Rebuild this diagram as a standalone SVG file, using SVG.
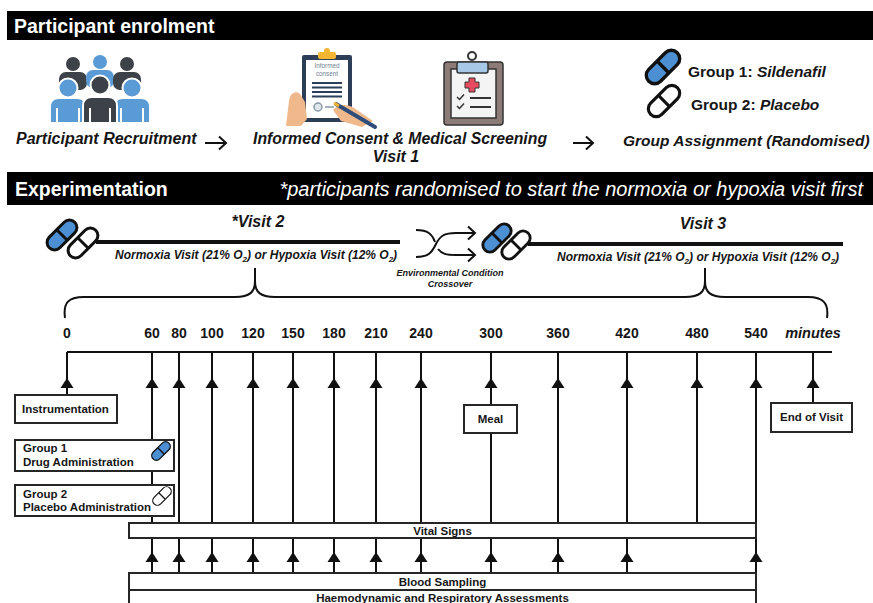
<svg xmlns="http://www.w3.org/2000/svg" xmlns:xlink="http://www.w3.org/1999/xlink" width="873" height="603" viewBox="0 0 873 603">
  <style>
    text { font-family: "Liberation Sans", Arial, sans-serif; fill: #161616; }
    .hdr { font-size: 19.5px; font-weight: bold; fill: #fff; }
    .hdr-note { font-size: 20px; font-style: italic; fill: #fff; }
    .step { font-size: 16px; font-weight: bold; font-style: italic; }
    .grp { font-size: 15.5px; font-weight: bold; }
    .visit { font-size: 16px; font-weight: bold; font-style: italic; }
    .cond { font-size: 12px; font-weight: bold; font-style: italic; }
    .sub { font-size: 8px; }
    .xover { font-size: 9px; font-weight: bold; font-style: italic; text-anchor: middle; }
    .num { font-size: 14px; font-weight: bold; text-anchor: middle; }
    .unit { font-size: 14.5px; font-weight: bold; font-style: italic; text-anchor: middle; }
    .bt { font-size: 11.5px; font-weight: bold; }
    .btc { font-size: 11.5px; font-weight: bold; text-anchor: middle; }
    .form { font-size: 6.3px; text-anchor: middle; fill: #6f7f90; }
    .box { fill: #fff; stroke: #262626; stroke-width: 2; }
    .ln { stroke: #111; stroke-width: 2; fill: none; }
    .thick { stroke: #111; stroke-width: 4; fill: none; }
    .tri { fill: #111; }
    .pill-blue { fill: #4d8fd3; stroke: #111; }
    .pill-white { fill: #fff; stroke: #111; }
    .blue { fill: #5b9bd5; }
    .dark { fill: #3d4248; }
  </style>
  <defs>
    <!-- capsule centred on the origin; fill and stroke come from the <use> -->
    <g id="pill">
      <rect x="-18" y="-7.5" width="36" height="15" rx="7.5"/>
      <line x1="0" y1="-7.5" x2="0" y2="7.5"/>
    </g>
    <!-- upward arrowhead, apex at the origin -->
    <path id="up" d="M0 0 L-6.5 10 L6.5 10 Z"/>
  </defs>

  <rect width="873" height="603" fill="#fff"/>

  <!-- ===== Participant enrolment ===== -->
  <g id="hdr-enrolment">
    <rect x="7" y="11" width="866" height="29" fill="#000"/>
    <text class="hdr" x="14" y="33">Participant enrolment</text>
  </g>

  <g id="recruitment">
    <!-- back row -->
    <circle class="dark" cx="73" cy="64" r="7"/>
    <rect class="dark" x="59" y="72" width="28" height="18" rx="7"/>
    <circle class="blue" cx="100" cy="62" r="7"/>
    <rect class="blue" x="86" y="70" width="28" height="18" rx="7"/>
    <circle class="dark" cx="127" cy="64" r="7"/>
    <rect class="dark" x="113" y="72" width="28" height="18" rx="7"/>
    <!-- front row -->
    <path class="blue" d="M50 123 V107 Q50 98 59 98 H77 Q86 98 86 107 V123 Z" stroke="#fff" stroke-width="2"/>
    <circle class="blue" cx="68" cy="88" r="9.5" stroke="#fff" stroke-width="2"/>
    <path class="blue" d="M114 123 V107 Q114 98 123 98 H141 Q150 98 150 107 V123 Z" stroke="#fff" stroke-width="2"/>
    <circle class="blue" cx="132" cy="88" r="9.5" stroke="#fff" stroke-width="2"/>
    <path class="dark" d="M83 123 V106 Q83 97 92 97 H108 Q117 97 117 106 V123 Z" stroke="#fff" stroke-width="2"/>
    <circle class="dark" cx="100" cy="85" r="9.5" stroke="#fff" stroke-width="2"/>
    <path d="M57 108 V123 M79 108 V123 M90 108 V123 M110 108 V123 M121 108 V123 M143 108 V123" stroke="#fff" stroke-width="2"/>
    <text class="step" x="16" y="144">Participant Recruitment</text>
  </g>

  <g id="consent">
    <!-- consent form on a clipboard, signed by hand -->
    <rect x="302" y="55" width="50" height="67" rx="2" fill="#2c3e58"/>
    <rect x="306" y="60" width="42" height="58" fill="#fff"/>
    <rect x="318" y="52" width="18" height="7" rx="2" fill="#f2b632"/>
    <circle cx="327" cy="51" r="3" fill="#f2b632"/>
    <text class="form" x="327" y="68">Informed</text>
    <text class="form" x="327" y="76">consent</text>
    <path d="M312 83 H342 M312 87.5 H342 M312 92 H342 M312 96.5 H342" stroke="#2c3e58" stroke-width="2"/>
    <circle cx="318" cy="107" r="4" fill="#dfe5ec" stroke="#8797a8" stroke-width="1.5"/>
    <path d="M325 107 H334" stroke="#8797a8" stroke-width="1.5"/>
    <path d="M286 126 L289 101 C290 93 296 90 300 94 L305 102 L307 119 L301 126 Z" fill="#f0b98b"/>
    <path d="M333 110 C339 103 349 104 357 110 L373 121 L362 127 L341 121 Z" fill="#f0b98b"/>
    <path d="M336 104 L375 127" stroke="#2f4d7a" stroke-width="4" stroke-linecap="round"/>
    <path d="M334 103 L339 106" stroke="#f2b632" stroke-width="3"/>
  </g>

  <g id="screening">
    <!-- medical clipboard -->
    <rect x="444" y="62" width="59" height="63" rx="3" fill="#8c7b76" stroke="#333" stroke-width="1.5"/>
    <rect x="451" y="69" width="45" height="49" fill="#f4f4f4" stroke="#333" stroke-width="1.5"/>
    <circle cx="472" cy="56" r="4" fill="none" stroke="#333" stroke-width="2"/>
    <rect x="457" y="62" width="31" height="11" rx="2" fill="#a8c8e8" stroke="#333" stroke-width="1.5"/>
    <path d="M469 78 h6 v4 h4 v6 h-4 v4 h-6 v-4 h-4 v-6 h4 Z" fill="#e84a5f" stroke="#333" stroke-width="1"/>
    <path d="M457 97 l2.5 2.5 l4.5 -5 M457 106 l2.5 2.5 l4.5 -5" fill="none" stroke="#333" stroke-width="1.5"/>
    <path d="M470 98 H491 M470 107 H491" stroke="#333" stroke-width="2"/>
    <text class="step" x="253" y="144" style="font-size:15.8px">Informed Consent &amp; Medical Screening</text>
    <text class="step" x="396" y="162" text-anchor="middle">Visit 1</text>
  </g>

  <g id="assignment">
    <use xlink:href="#pill" class="pill-blue" stroke-width="3" transform="translate(663 67) rotate(-45) scale(1.12)"/>
    <text class="grp" x="688" y="77">Group 1: <tspan font-style="italic">Sildenafil</tspan></text>
    <use xlink:href="#pill" class="pill-white" stroke-width="3" transform="translate(664 101) rotate(-45) scale(1.05)"/>
    <text class="grp" x="691" y="110">Group 2: <tspan font-style="italic">Placebo</tspan></text>
    <text class="step" x="623" y="146" style="font-size:15.5px">Group Assignment (Randomised)</text>
  </g>

  <!-- ===== Experimentation ===== -->
  <g id="hdr-experimentation">
    <rect x="7" y="172" width="866" height="33" fill="#000"/>
    <text class="hdr" x="15" y="196">Experimentation</text>
    <text class="hdr-note" x="863" y="196" text-anchor="end">*participants randomised to start the normoxia or hypoxia visit first</text>
  </g>

  <g id="visit2">
    <text class="visit" x="258" y="227" text-anchor="middle">*Visit 2</text>
    <path class="thick" d="M96 242 H400"/>
    <use xlink:href="#pill" class="pill-blue" stroke-width="3" transform="translate(62 235) rotate(-45)"/>
    <use xlink:href="#pill" class="pill-white" stroke-width="3" transform="translate(83 243) rotate(-45)"/>
    <text class="cond" x="115" y="259">Normoxia Visit (21% O<tspan class="sub" dy="2.5">2</tspan><tspan dy="-2.5">) or Hypoxia Visit (12% O</tspan><tspan class="sub" dy="2.5">2</tspan><tspan dy="-2.5">)</tspan></text>
  </g>

  <g id="crossover">
    <text class="xover" x="450" y="276">Environmental Condition</text>
    <text class="xover" x="450" y="287">Crossover</text>
  </g>

  <g id="visit3">
    <text class="visit" x="703" y="229" text-anchor="middle">Visit 3</text>
    <path class="thick" d="M528 244 H843"/>
    <use xlink:href="#pill" class="pill-blue" stroke-width="3" transform="translate(497 238) rotate(-45) scale(0.95)"/>
    <use xlink:href="#pill" class="pill-white" stroke-width="3" transform="translate(516 245) rotate(-45) scale(0.95)"/>
    <text class="cond" x="557" y="261">Normoxia Visit (21% O<tspan class="sub" dy="2.5">2</tspan><tspan dy="-2.5">) or Hypoxia Visit (12% O</tspan><tspan class="sub" dy="2.5">2</tspan><tspan dy="-2.5">)</tspan></text>
  </g>

  <!-- timeline scale -->
  <g id="scale">
    <text class="num" x="67" y="338">0</text>
    <text class="num" x="152" y="338">60</text>
    <text class="num" x="179" y="338">80</text>
    <text class="num" x="212" y="338">100</text>
    <text class="num" x="253" y="338">120</text>
    <text class="num" x="293" y="338">150</text>
    <text class="num" x="334" y="338">180</text>
    <text class="num" x="376" y="338">210</text>
    <text class="num" x="421" y="338">240</text>
    <text class="num" x="491" y="338">300</text>
    <text class="num" x="558" y="338">360</text>
    <text class="num" x="627" y="338">420</text>
    <text class="num" x="697" y="338">480</text>
    <text class="num" x="756" y="338">540</text>
    <text class="unit" x="813" y="338">minutes</text>
  </g>

  <!-- ===== connectors ===== -->
  <g id="connectors">
    <!-- enrolment flow arrows -->
    <path class="ln" d="M205 143 H226 M219 136.5 L226 143 L219 149.5"/>
    <path class="ln" d="M573 143 H593 M586 136.5 L593 143 L586 149.5"/>
    <!-- condition crossover -->
    <path class="ln" d="M416 230 C428 230 432 234 435 242"/>
    <path class="ln" d="M416 257 C429 257 432 252 436 244 C440 236 444 233 456 233 H475 M468 226.5 L475 233 L468 239.5"/>
    <path class="ln" d="M438 249 C442 254 446 255 456 255 H475 M468 248.5 L475 255 L468 261.5"/>
    <!-- brace joining both visits to the timeline -->
    <path class="ln" d="M65 318 C63 303 68 297 84 297 L235 297 C250 297 255 292 255 281 L255 268 L255 281 C255 292 260 297 275 297 L685 297 C700 297 705 292 705 281 L705 268 L705 281 C705 292 710 297 725 297 L808 297 C823 297 829 303 827 318"/>
    <!-- time axis -->
    <path class="ln" d="M67 352 H832"/>
    <!-- drops from the axis -->
    <path class="ln" d="M67 352 V395 M152 352 V523 M179 352 V523 M212 352 V523 M253 352 V523 M293 352 V523 M334 352 V523 M376 352 V523 M421 352 V523 M491 352 V523 M558 352 V523 M627 352 V523 M697 352 V523 M756 352 V523 M813 352 V403"/>
    <!-- between vital signs and blood sampling -->
    <path class="ln" d="M152 538 V573 M179 538 V573 M212 538 V573 M253 538 V573 M293 538 V573 M334 538 V573 M376 538 V573 M421 538 V573 M491 538 V573 M558 538 V573 M627 538 V573 M756 538 V603"/>
    <g class="tri">
      <use xlink:href="#up" x="67" y="378"/>
      <use xlink:href="#up" x="152" y="378"/>
      <use xlink:href="#up" x="179" y="378"/>
      <use xlink:href="#up" x="212" y="378"/>
      <use xlink:href="#up" x="253" y="378"/>
      <use xlink:href="#up" x="293" y="378"/>
      <use xlink:href="#up" x="334" y="378"/>
      <use xlink:href="#up" x="376" y="378"/>
      <use xlink:href="#up" x="421" y="378"/>
      <use xlink:href="#up" x="491" y="378"/>
      <use xlink:href="#up" x="558" y="378"/>
      <use xlink:href="#up" x="627" y="378"/>
      <use xlink:href="#up" x="697" y="378"/>
      <use xlink:href="#up" x="756" y="378"/>
      <use xlink:href="#up" x="813" y="378"/>
      <use xlink:href="#up" x="152" y="552"/>
      <use xlink:href="#up" x="179" y="552"/>
      <use xlink:href="#up" x="212" y="552"/>
      <use xlink:href="#up" x="253" y="552"/>
      <use xlink:href="#up" x="293" y="552"/>
      <use xlink:href="#up" x="334" y="552"/>
      <use xlink:href="#up" x="376" y="552"/>
      <use xlink:href="#up" x="421" y="552"/>
      <use xlink:href="#up" x="491" y="552"/>
      <use xlink:href="#up" x="558" y="552"/>
      <use xlink:href="#up" x="627" y="552"/>
      <use xlink:href="#up" x="756" y="552"/>
    </g>
  </g>

  <!-- ===== timeline events ===== -->
  <g id="instrumentation">
    <rect class="box" x="15" y="395" width="102" height="28"/>
    <text class="bt" x="22" y="413">Instrumentation</text>
  </g>

  <g id="drug-admin">
    <rect class="box" x="15" y="440" width="159" height="31"/>
    <text class="bt" x="23" y="452">Group 1</text>
    <text class="bt" x="23" y="466">Drug Administration</text>
    <use xlink:href="#pill" class="pill-blue" stroke-width="2.2" transform="translate(161 451) rotate(-45) scale(0.62)"/>
  </g>

  <g id="placebo-admin">
    <rect class="box" x="15" y="485" width="159" height="31"/>
    <text class="bt" x="23" y="498">Group 2</text>
    <text class="bt" x="23" y="511">Placebo Administration</text>
    <use xlink:href="#pill" class="pill-white" stroke-width="2" transform="translate(162 496) rotate(-45) scale(0.62)"/>
  </g>

  <g id="meal">
    <rect class="box" x="464" y="405" width="53" height="28"/>
    <text class="btc" x="490.5" y="423">Meal</text>
  </g>

  <g id="end-visit">
    <rect class="box" x="771" y="403" width="81" height="29"/>
    <text class="btc" x="811.5" y="421">End of Visit</text>
  </g>

  <g id="vital-signs">
    <rect class="box" x="129" y="523" width="627" height="15"/>
    <text class="btc" x="442.5" y="534.5">Vital Signs</text>
  </g>

  <g id="blood-sampling">
    <rect class="box" x="129" y="573" width="627" height="17"/>
    <text class="btc" x="442.5" y="586">Blood Sampling</text>
  </g>

  <g id="haemo-resp">
    <rect class="box" x="129" y="590" width="627" height="20"/>
    <text class="btc" x="442.5" y="601.5">Haemodynamic and Respiratory Assessments</text>
  </g>
</svg>
